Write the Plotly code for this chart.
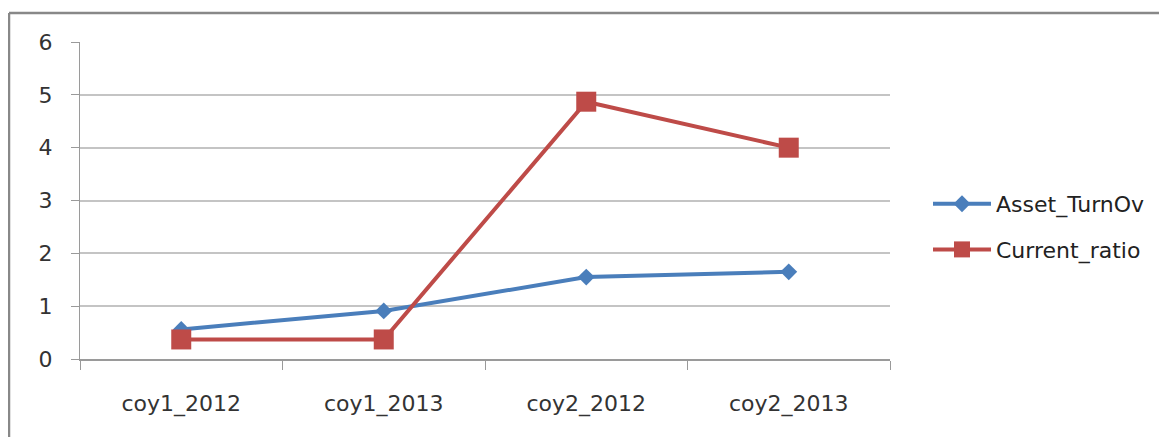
import plotly.graph_objects as go

categories = ["coy1_2012", "coy1_2013", "coy2_2012", "coy2_2013"]
asset_turnov = [0.56, 0.91, 1.55, 1.65]
current_ratio = [0.37, 0.37, 4.87, 4.0]
y_ticks = [0, 1, 2, 3, 4, 5, 6]

FONT = "DejaVu Sans"
FS = 22
fig = go.Figure()
fig.add_trace(go.Scatter(
    x=categories, y=asset_turnov, name="Asset_TurnOv", mode="lines+markers",
    line=dict(color="#4A7EBB", width=4),
    marker=dict(symbol="diamond", size=13, color="#4A7EBB"),
    legendgroup="a",
))
fig.add_trace(go.Scatter(
    x=categories, y=current_ratio, name="Current_ratio", mode="lines+markers",
    line=dict(color="#BE4B48", width=4),
    marker=dict(symbol="square", size=20, color="#BE4B48"),
    legendgroup="b",
))

OFF = 8  # page body margin
W, H = 1167, 437
# target plot area in screen pixels: x 80..890, y 42..359
L, T = 80 - OFF, 42 - OFF
R = W - 890 + OFF
B = H - 359 + OFF
pw, ph = W - L - R, H - T - B
def px(x):
    return (x - 80) / pw
def py(y):
    return (359 - y) / ph

fig.update_layout(
    width=W, height=H,
    margin=dict(l=L, r=R, t=T, b=B, pad=0),
    paper_bgcolor="white", plot_bgcolor="white",
    font=dict(family=FONT, size=FS, color="#333333"),
    showlegend=True,
    legend=dict(
        x=px(928), y=py(227), xanchor="left", yanchor="middle",
        itemwidth=58, tracegroupgap=14, traceorder="grouped",
        font=dict(family=FONT, size=FS, color="#222222"),
        bgcolor="rgba(0,0,0,0)",
    ),
    hovermode=False,
    xaxis=dict(
        type="category", range=[-0.5, 3.5],
        showgrid=False, showline=True, linecolor="#9a9a9a", linewidth=1.5,
        ticks="outside", tickson="boundaries", ticklen=9, tickcolor="#9a9a9a",
        tickwidth=1, ticklabelstandoff=24,
        tickfont=dict(family=FONT, size=FS, color="#333333"),
    ),
    yaxis=dict(
        range=[0, 6], tickvals=y_ticks,
        showgrid=True, gridcolor="#c4c4c4", gridwidth=2,
        showline=True, linecolor="#9a9a9a", linewidth=1,
        ticks="outside", ticklen=8, tickcolor="#9a9a9a", tickwidth=1,
        ticklabelstandoff=14, zeroline=False,
        tickfont=dict(family=FONT, size=FS, color="#333333"),
    ),
    shapes=[
        dict(type="line", xref="paper", yref="paper",
             x0=px(9), x1=px(9), y0=py(13), y1=py(460),
             line=dict(color="#888888", width=2.5)),
        dict(type="line", xref="paper", yref="paper",
             x0=px(9), x1=px(1200), y0=py(13), y1=py(13),
             line=dict(color="#888888", width=2.5)),
    ],
)

fig.write_html("out.html")
